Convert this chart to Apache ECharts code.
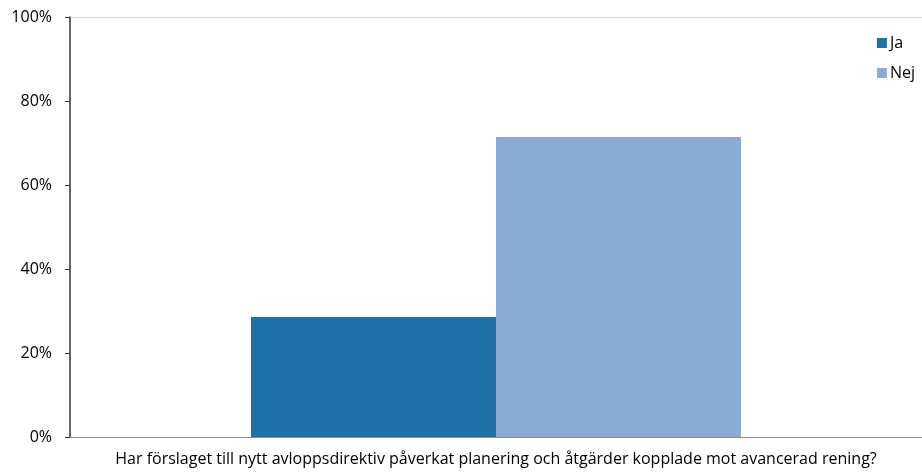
<!DOCTYPE html>
<html>
<head>
<meta charset="utf-8">
<script src="https://cdn.jsdelivr.net/npm/echarts@6/dist/echarts.min.js"></script>
<style>
  html, body { margin: 0; padding: 0; background: #fff; overflow: hidden; }
  #chart { width: 922px; height: 473px; }
</style>
</head>
<body>
<div id="chart"></div>
<script>
// Survey question and answer shares (percent)
const categories = ['Har förslaget till nytt avloppsdirektiv påverkat planering och åtgärder kopplade mot avancerad rening?'];
const jaValues = [28.6];
const nejValues = [71.4];
const yTicks = [0, 20, 40, 60, 80, 100];

const font = 'Open Sans, Noto Sans, sans-serif';
const chart = echarts.init(document.getElementById('chart'));

chart.setOption({
  animation: false,
  textStyle: { fontFamily: font },
  // plot area runs slightly past the right edge of the canvas
  grid: { left: 70, width: 859, top: 17, bottom: 36 },
  legend: {
    orient: 'vertical',
    right: 2,
    top: 30,
    itemWidth: 10,
    itemHeight: 10,
    itemGap: 14,
    icon: 'rect',
    textStyle: { fontSize: 16, color: '#000', fontFamily: font, padding: [0, 0, 0, -2] },
    data: ['Ja', 'Nej']
  },
  xAxis: {
    type: 'category',
    data: categories,
    axisLine: { lineStyle: { color: '#8c8c8c', width: 1 } },
    axisTick: { show: false },
    axisLabel: { fontSize: 16, color: '#000', margin: 14, fontFamily: font, hideOverlap: false, interval: 0 }
  },
  yAxis: {
    type: 'value',
    min: yTicks[0],
    max: yTicks[yTicks.length - 1],
    interval: 20,
    axisLine: { show: true, lineStyle: { color: '#333', width: 1.5 } },
    axisTick: { show: true, length: 5, lineStyle: { color: '#333' } },
    axisLabel: { fontSize: 16, color: '#000', margin: 18, formatter: '{value}%', fontFamily: font },
    splitLine: {
      show: true,
      lineStyle: { color: ['transparent', 'transparent', 'transparent', 'transparent', 'transparent', '#d9d9d9'] }
    }
  },
  series: [
    {
      name: 'Ja',
      type: 'bar',
      data: jaValues,
      barWidth: 245,
      barGap: '0%',
      itemStyle: { color: '#1f71a8' }
    },
    {
      name: 'Nej',
      type: 'bar',
      data: nejValues,
      barWidth: 245,
      itemStyle: { color: '#8cabd3' }
    }
  ]
});
</script>
</body>
</html>
